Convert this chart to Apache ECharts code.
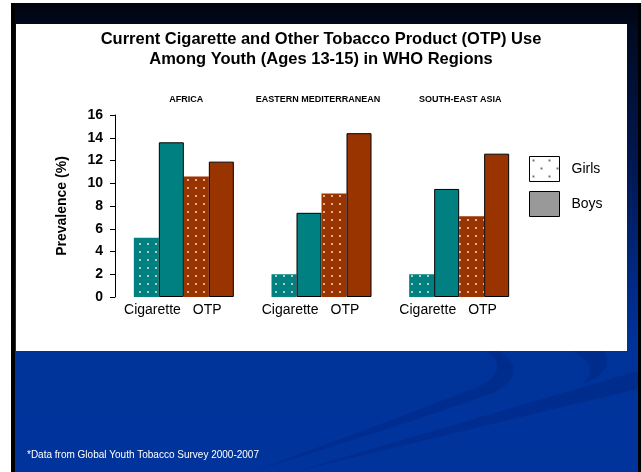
<!DOCTYPE html>
<html><head><meta charset="utf-8">
<script src="https://cdn.jsdelivr.net/npm/echarts@6/dist/echarts.min.js"></script>
<style>html,body{margin:0;padding:0;background:#fff}#c{width:641px;height:472px}</style>
</head><body><div id="c"></div>
<script>
const regions = ['AFRICA', 'EASTERN MEDITERRANEAN', 'SOUTH-EAST ASIA'];
const productLabels = ['Cigarette', 'OTP'];
const girlsCigarette = [5.2, 2.0, 2.0];
const boysCigarette = [13.6, 7.4, 9.5];
const girlsOTP = [10.6, 9.1, 7.1];
const boysOTP = [11.9, 14.4, 12.6];
const legendNames = ['Girls', 'Boys'];
const titleLines = ['Current Cigarette and Other Tobacco Product (OTP) Use', 'Among Youth (Ages 13-15) in WHO Regions'];
const footnote = '*Data from Global Youth Tobacco Survey 2000-2007';

const FONT = "'Liberation Sans', Arial, sans-serif";

function dotPattern(bg, dot, w, h, dots, r) {
  const c = document.createElement('canvas');
  c.width = w; c.height = h;
  const g = c.getContext('2d');
  g.fillStyle = bg; g.fillRect(0, 0, w, h);
  g.fillStyle = dot;
  dots.forEach(([px, py]) => { g.beginPath(); g.arc(px, py, r, 0, Math.PI * 2); g.fill(); });
  return { image: c, repeat: 'repeat' };
}
const tealDots = dotPattern('#008080', '#e8e8d4', 8, 8, [[4, 4]], 1.0);
const brownDots = dotPattern('#993300', '#f0e0d0', 8, 8, [[4, 4]], 1.0);
const legendDots = dotPattern('#ffffff', '#333333', 16, 16, [[4, 4], [12, 12]], 0.9);

// decorative swoosh outline: sequence of quadratic segments sampled to points
function quadPts(segs) {
  const pts = [];
  segs.forEach(([p0, c, p1]) => {
    for (let i = 0; i <= 12; i++) {
      const t = i / 12, u = 1 - t;
      pts.push([u * u * p0[0] + 2 * u * t * c[0] + t * t * p1[0], u * u * p0[1] + 2 * u * t * c[1] + t * t * p1[1]]);
    }
  });
  return pts;
}
const swooshA = quadPts([[[250, 472], [420, 420], [495, 392]], [[495, 392], [530, 372], [500, 351]],
  [[488, 351], [510, 370], [480, 386]], [[480, 386], [380, 425], [250, 472]]]);
const swooshC = quadPts([[[572, 351], [602, 367], [582, 384]], [[582, 384], [615, 372], [604, 351]]]);

const chart = echarts.init(document.getElementById('c'), null, { renderer: 'canvas' });

const regionPad = [[0, 0, 0, 5], [0, 7, 0, 0], [0, 0, 0, 2]];
const deco = { fill: 'rgba(0,25,100,0.22)', stroke: null, lineWidth: 0 };

chart.setOption({
  backgroundColor: '#ffffff',
  animation: false,
  textStyle: { fontFamily: FONT },
  graphic: [
    { type: 'rect', z: -30, silent: true, shape: { x: 11, y: 3, width: 630, height: 469 },
      style: { fill: new echarts.graphic.LinearGradient(0, 0, 0, 1, [
        { offset: 0, color: '#00040e' }, { offset: 0.06, color: '#000a22' },
        { offset: 0.35, color: '#001852' }, { offset: 0.66, color: '#002e90' },
        { offset: 0.74, color: '#00339a' }, { offset: 1, color: '#00349c' }]) } },
    { type: 'polygon', z: -25, silent: true, shape: { points: [[300, 470], [641, 370], [641, 388], [293, 472]] },
      style: deco },
    { type: 'polygon', z: -25, silent: true, shape: { points: swooshA }, style: deco },
    { type: 'polygon', z: -25, silent: true, shape: { points: swooshC }, style: deco },
    { type: 'rect', z: -20, silent: true, shape: { x: 11, y: 3, width: 4, height: 469 }, style: { fill: '#000000' } },
    { type: 'rect', z: -20, silent: true, shape: { x: 638, y: 3, width: 3, height: 469 }, style: { fill: '#000000' } },
    { type: 'rect', z: -15, silent: true, shape: { x: 16, y: 24, width: 611, height: 327 }, style: { fill: '#ffffff' } }
  ],
  title: [
    { text: titleLines.join('\n'), left: 321, top: 29, textAlign: 'center', padding: 0,
      textStyle: { fontFamily: FONT, fontSize: 16.5, fontWeight: 'bold', color: '#000', lineHeight: 20 } },
    { text: footnote, left: 27, top: 450, padding: 0,
      textStyle: { fontFamily: FONT, fontSize: 10, fontWeight: 'normal', color: '#ffffff' } }
  ],
  legend: {
    orient: 'vertical', left: 529, top: 156, padding: 0, icon: 'rect', itemWidth: 30, itemHeight: 25, itemGap: 9,
    selectedMode: false,
    textStyle: { fontFamily: FONT, fontSize: 14, color: '#000', padding: [0, 0, 0, 7] },
    data: [
      { name: legendNames[0], itemStyle: { color: legendDots, borderColor: '#000', borderWidth: 1 } },
      { name: legendNames[1], itemStyle: { color: '#999999', borderColor: '#000', borderWidth: 1 } }
    ]
  },
  grid: { left: 115, right: 113, top: 115, bottom: 175, containLabel: false },
  xAxis: [
    { type: 'category', data: regions, position: 'bottom',
      axisLine: { show: false }, axisTick: { show: false },
      axisLabel: { interval: 0, margin: 6,
        formatter: () => '{c|' + productLabels[0] + '}{o|' + productLabels[1] + '}',
        rich: {
          c: { fontFamily: FONT, fontSize: 14, color: '#000' },
          o: { fontFamily: FONT, fontSize: 14, color: '#000', padding: [0, 22, 0, 12] }
        } } },
    { type: 'category', data: regions, position: 'top',
      axisLine: { show: false }, axisTick: { show: false },
      axisLabel: { interval: 0, margin: 11,
        formatter: (v, i) => '{r' + i + '|' + v + '}',
        rich: {
          r0: { fontFamily: FONT, fontSize: 9, fontWeight: 'bold', color: '#000', padding: regionPad[0] },
          r1: { fontFamily: FONT, fontSize: 9, fontWeight: 'bold', color: '#000', padding: regionPad[1] },
          r2: { fontFamily: FONT, fontSize: 9, fontWeight: 'bold', color: '#000', padding: regionPad[2] }
        } } }
  ],
  yAxis: {
    type: 'value', min: 0, max: 16, interval: 2,
    name: 'Prevalence (%)', nameLocation: 'middle', nameGap: 46, nameRotate: 90,
    nameTextStyle: { fontFamily: FONT, fontSize: 14, fontWeight: 'bold', color: '#000' },
    axisLine: { show: true, lineStyle: { color: '#000', width: 1 } },
    axisTick: { show: true, length: 5, lineStyle: { color: '#000', width: 1 } },
    axisLabel: { fontFamily: FONT, fontSize: 14, fontWeight: 'bold', color: '#000', margin: 12 },
    splitLine: { show: false }
  },
  series: [
    { name: 'Girls', type: 'bar', xAxisIndex: 0, data: girlsCigarette, barWidth: 25, barGap: '0%',
      itemStyle: { color: tealDots } },
    { name: 'Boys', type: 'bar', xAxisIndex: 0, data: boysCigarette, barWidth: 25, barGap: '0%',
      itemStyle: { color: '#008080', borderColor: '#000', borderWidth: 1 } },
    { name: 'Girls', type: 'bar', xAxisIndex: 0, data: girlsOTP, barWidth: 25, barGap: '0%',
      itemStyle: { color: brownDots, borderColor: '#000', borderWidth: 0 } },
    { name: 'Boys', type: 'bar', xAxisIndex: 0, data: boysOTP, barWidth: 25, barGap: '0%',
      itemStyle: { color: '#993300', borderColor: '#000', borderWidth: 1 } }
  ]
});
</script>
</body></html>
